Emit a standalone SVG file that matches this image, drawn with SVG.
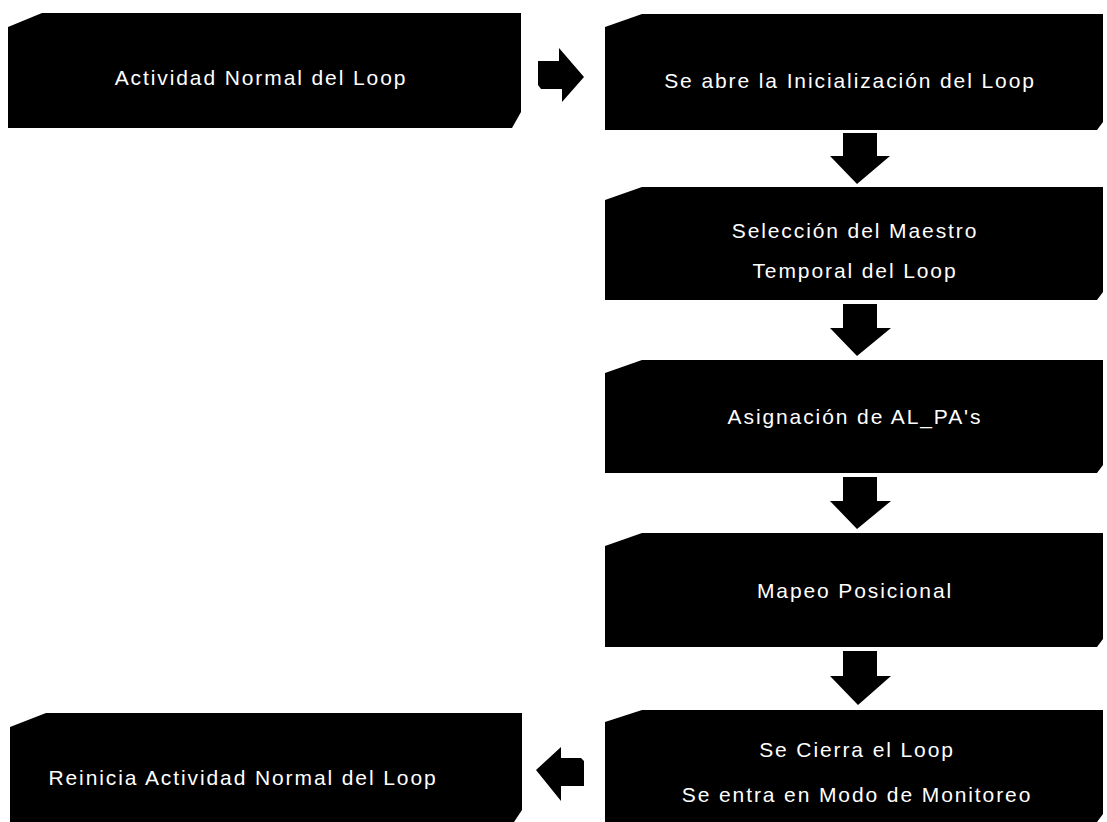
<svg xmlns="http://www.w3.org/2000/svg" width="1107" height="822" viewBox="0 0 1107 822">
  <style>
    .box { fill: #000; }
    .arrow { fill: #000; }
    .label { fill: #fff; font-family: "Liberation Sans", Arial, sans-serif; font-size: 21px; letter-spacing: 1.9px; text-anchor: middle; }
  </style>
  <rect width="1107" height="822" fill="#fff"/>

  <!-- connectors: block arrows between the steps -->
  <g id="connectors">
    <!-- right arrow between top boxes -->
    <path class="arrow" d="M538,61 L559,61 L559,48 L584,77 L562,102 L562,89 L541,89 L538,85 Z"/>
    <!-- down arrows in right column -->
    <path class="arrow" d="M843,133 L877,133 L877,156 L890,156 L857,184 L830,156 L843,156 Z"/>
    <path class="arrow" d="M843,304 L877,304 L877,328 L891,328 L857,356 L830,328 L843,328 Z"/>
    <path class="arrow" d="M843,477 L877,477 L877,501 L891,501 L857,529 L830,501 L843,501 Z"/>
    <path class="arrow" d="M843,651 L877,651 L877,676 L891,676 L858,705 L830,676 L843,676 Z"/>
    <!-- left arrow to bottom-left box -->
    <path class="arrow" d="M581,758 L561,758 L561,747 L536,770 L561,801 L561,786 L584,786 L584,761 Z"/>
  </g>

  <g id="n-actividad">
    <path class="box" d="M8,27 L42,13 L521,13 L521,112 L512,128 L8,128 Z"/>
    <text class="label" x="261" y="85">Actividad Normal del Loop</text>
  </g>

  <g id="n-inicializacion">
    <path class="box" d="M605,27 L642,14 L1103,14 L1103,122 L1097,130 L605,130 Z"/>
    <text class="label" x="850" y="88">Se abre la Inicialización del Loop</text>
  </g>

  <g id="n-maestro">
    <path class="box" d="M605,200 L642,187 L1103,187 L1103,292 L1097,300 L605,300 Z"/>
    <text class="label" x="855" y="238">Selección del Maestro</text>
    <text class="label" x="855" y="278">Temporal del Loop</text>
  </g>

  <g id="n-alpa">
    <path class="box" d="M605,373 L642,360 L1103,360 L1103,465 L1097,473 L605,473 Z"/>
    <text class="label" x="855" y="424">Asignación de AL_PA's</text>
  </g>

  <g id="n-mapeo">
    <path class="box" d="M605,546 L642,533 L1103,533 L1103,639 L1097,647 L605,647 Z"/>
    <text class="label" x="855" y="598">Mapeo Posicional</text>
  </g>

  <g id="n-cierre">
    <path class="box" d="M605,722 L642,710 L1103,710 L1103,814 L1097,822 L605,822 Z"/>
    <text class="label" x="857" y="757">Se Cierra el Loop</text>
    <text class="label" x="857" y="802">Se entra en Modo de Monitoreo</text>
  </g>

  <g id="n-reinicia">
    <path class="box" d="M10,727 L46,713 L522,713 L522,810 L514,822 L10,822 Z"/>
    <text class="label" x="243" y="785">Reinicia Actividad Normal del Loop</text>
  </g>
</svg>
